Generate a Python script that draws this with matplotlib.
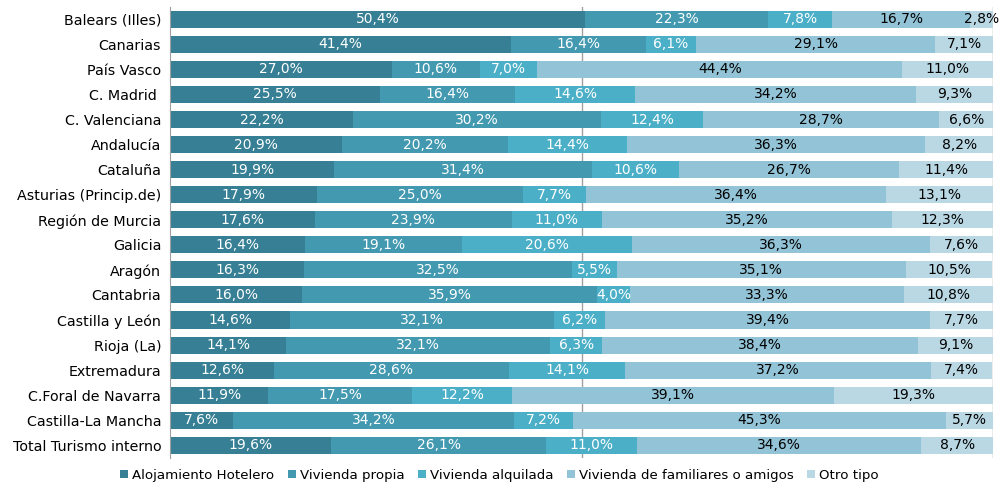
import numpy as np
import matplotlib.pyplot as plt

# Datos
regiones = ['Balears (Illes)', 'Canarias', 'País Vasco', 'C. Madrid ', 'C. Valenciana',
            'Andalucía', 'Cataluña', 'Asturias (Princip.de)', 'Región de Murcia', 'Galicia',
            'Aragón', 'Cantabria', 'Castilla y León', 'Rioja (La)', 'Extremadura',
            'C.Foral de Navarra', 'Castilla-La Mancha', 'Total Turismo interno']
hotelero = [50.4, 41.4, 27.0, 25.5, 22.2, 20.9, 19.9, 17.9, 17.6, 16.4, 16.3, 16.0, 14.6, 14.1, 12.6, 11.9, 7.6, 19.6]
propia = [22.3, 16.4, 10.6, 16.4, 30.2, 20.2, 31.4, 25.0, 23.9, 19.1, 32.5, 35.9, 32.1, 32.1, 28.6, 17.5, 34.2, 26.1]
alquilada = [7.8, 6.1, 7.0, 14.6, 12.4, 14.4, 10.6, 7.7, 11.0, 20.6, 5.5, 4.0, 6.2, 6.3, 14.1, 12.2, 7.2, 11.0]
familiares = [16.7, 29.1, 44.4, 34.2, 28.7, 36.3, 26.7, 36.4, 35.2, 36.3, 35.1, 33.3, 39.4, 38.4, 37.2, 39.1, 45.3, 34.6]
otro = [2.8, 7.1, 11.0, 9.3, 6.6, 8.2, 11.4, 13.1, 12.3, 7.6, 10.5, 10.8, 7.7, 9.1, 7.4, 19.3, 5.7, 8.7]

series = ['Alojamiento Hotelero', 'Vivienda propia', 'Vivienda alquilada',
          'Vivienda de familiares o amigos', 'Otro tipo']
valores = [hotelero, propia, alquilada, familiares, otro]
colores = ['#367f94', '#4399b0', '#4cafc8', '#93c3d6', '#bad8e4']
color_texto = ['white', 'white', 'white', 'black', 'black']

fig = plt.figure(figsize=(10.07, 4.86), dpi=100)
ax = fig.add_axes([0.169, 0.058, 0.817, 0.928])

y = np.arange(len(regiones))
izq = np.zeros(len(regiones))
for nombre, v, c, tc in zip(series, valores, colores, color_texto):
    v = np.array(v)
    ax.barh(y, v, left=izq, height=0.68, color=c, label=nombre, zorder=2)
    for xi, yi, val in zip(izq + v / 2, y, v):
        ax.text(xi, yi, f'{val:.1f}%'.replace('.', ','), ha='center', va='center',
                color=tc, fontsize=10, zorder=3)
    izq += v

ax.set_xlim(0, 100)
ax.set_ylim(len(regiones) - 0.5, -0.5)
ax.set_yticks(y)
ax.set_yticklabels(regiones, fontsize=10.3)
ax.set_xticks([])
ax.tick_params(axis='y', length=0, pad=6.5)
for s in ['top', 'bottom', 'right']:
    ax.spines[s].set_visible(False)
ax.spines['left'].set_color('#a0a0a0')
ax.axvline(50, color='#a0a0a0', lw=1, zorder=1)
ax.axvline(100, color='#a0a0a0', lw=1, zorder=1)

ax.legend(loc='upper center', bbox_to_anchor=(0.40, -0.012), ncol=5, frameon=False,
          fontsize=9.6, handlelength=0.6, handleheight=0.6, handletextpad=0.3,
          columnspacing=1.0, borderaxespad=0)

fig.savefig('out.png', dpi=100)
